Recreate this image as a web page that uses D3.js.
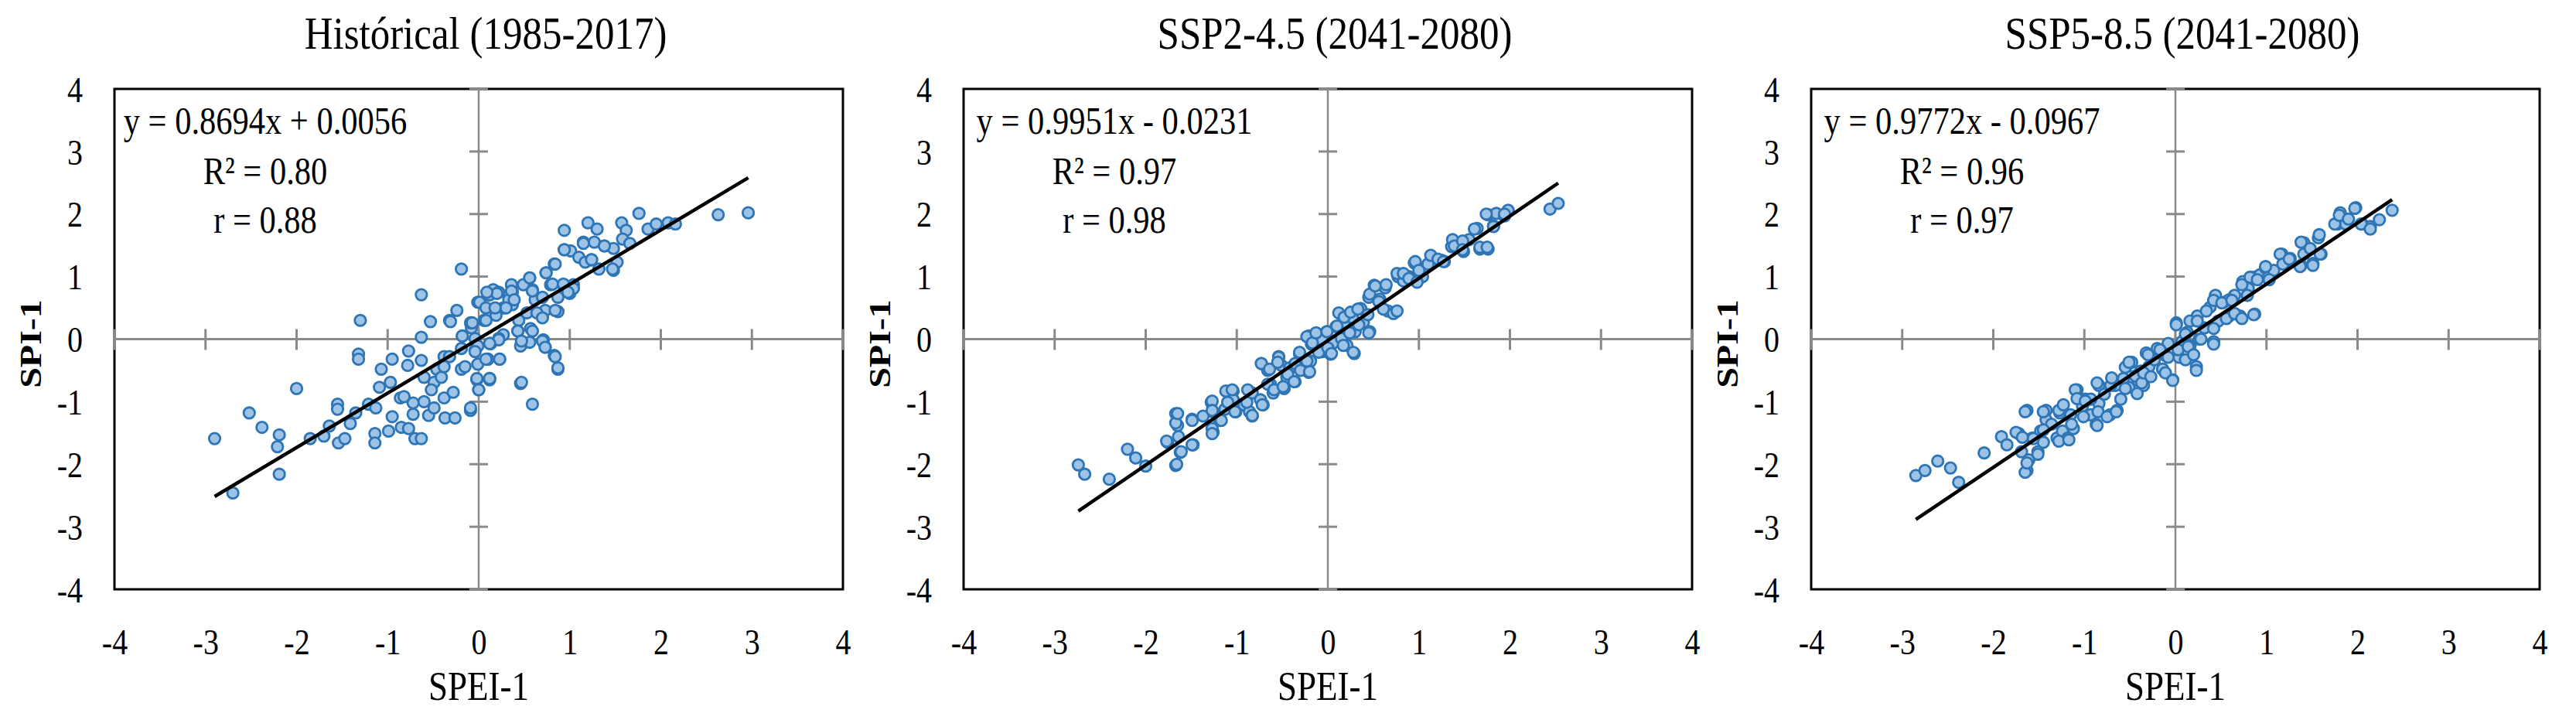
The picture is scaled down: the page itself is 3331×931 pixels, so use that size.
<!DOCTYPE html>
<html><head><meta charset="utf-8">
<script src="https://cdn.jsdelivr.net/npm/d3@7"></script>
<style>html,body{margin:0;padding:0;background:#fff;} svg{display:block;}</style>
</head><body><svg id="c" width="3331" height="931"></svg>
<script>
const titles = ["Histórical (1985-2017)", "SSP2-4.5 (2041-2080)", "SSP5-8.5 (2041-2080)"];
const equations = ["y = 0.8694x + 0.0056", "y = 0.9951x - 0.0231", "y = 0.9772x - 0.0967"];
const r2Labels = ["R² = 0.80", "R² = 0.97", "R² = 0.96"];
const rLabels = ["r = 0.88", "r = 0.98", "r = 0.97"];
const slopes = [0.8694, 0.9951, 0.9772];
const intercepts = [0.0056, -0.0231, -0.0967];
const xTicks = [-4, -3, -2, -1, 0, 1, 2, 3, 4];
const yTicks = [-4, -3, -2, -1, 0, 1, 2, 3, 4];
const xLabel = "SPEI-1";
const yLabel = "SPI-1";

const histX = [
-0.19,-0.63,-1.30,-1.32,-1.32,-2.00,-2.52,-2.38,-2.90,-2.19,
-2.21,-2.19,-2.70,-1.85,-1.70,-1.64,-1.55,-1.55,-1.54,-1.47,
-1.41,-1.35,-1.21,-1.13,-1.14,-1.14,-1.09,-1.07,-0.97,-0.95,
-0.99,-0.95,-0.85,-0.77,-0.86,-0.82,-0.77,-0.78,-0.72,-0.70,
-0.63,-0.72,-0.63,-0.63,-0.53,-0.60,-0.55,-0.49,-0.49,-0.46,
-0.37,-0.26,-0.38,-0.28,-0.38,-0.32,-0.24,-0.19,-0.18,-0.09,
-0.08,-0.01,-0.02,0.00,0.06,0.10,0.12,0.10,0.16,0.13,-0.52,-0.41,-0.60,
2.96,2.63,1.76,1.57,1.62,1.20,1.30,0.94,1.86,1.95,
2.08,2.16,1.15,1.27,1.38,1.48,1.58,1.66,0.94,1.01,
1.10,1.17,1.24,1.32,1.48,1.52,0.83,0.74,0.79,0.56,
0.59,0.49,0.36,0.22,0.12,0.37,0.37,0.27,0.01,0.08,
0.62,0.70,0.73,0.87,0.93,1.00,1.04,0.87,-0.09,0.06,
0.19,0.44,0.57,0.43,0.27,0.22,0.47,0.56,0.13,-0.04,
-0.04,0.10,0.23,-0.01,0.71,0.73,0.83,0.87,0.46,0.46,
0.59,0.12,-0.02,0.00,-0.09,0.33,0.53,0.64,
-0.31,-0.07,0.08,0.20,0.36,0.56,0.59,0.74,0.81,0.84,
0.94,0.93,1.04,1.15,1.24,1.38,1.47,0.43,0.59,0.70,
0.73,0.84,0.87,0.47,0.22,0.12,-0.01,-0.18,-0.04,0.08,
0.23,0.47,0.12,-0.15,-0.32,-0.38,-0.19,0.30,0.39,0.70,
0.84,0.98,0.09,0.18];
const histY = [
1.12,0.71,0.30,-0.24,-0.32,-0.79,-1.18,-1.41,-1.59,-1.53,
-1.72,-2.16,-2.46,-1.59,-1.55,-1.39,-1.04,-1.12,-1.66,-1.59,
-1.35,-1.18,-1.04,-1.10,-1.51,-1.66,-0.77,-0.48,-0.69,-0.32,
-1.47,-1.24,-1.41,-1.43,-0.94,-0.92,-0.19,-0.42,-1.20,-1.59,
-1.59,-1.02,-0.34,0.03,0.28,-1.00,-1.22,-1.10,-0.69,-0.48,
-1.26,-1.26,-0.94,-0.85,-0.28,0.30,0.46,-0.48,0.05,-1.14,
0.18,0.59,-0.65,-0.81,0.30,-0.32,-0.65,0.71,0.79,-0.07,-0.81,-0.61,-0.61,
2.02,1.99,2.01,1.86,1.74,1.86,1.76,1.74,1.76,1.84,
1.86,1.84,1.55,1.55,1.49,1.45,1.60,1.53,1.43,1.41,
1.31,1.23,1.27,1.12,1.10,1.23,1.20,1.06,0.87,0.98,
0.79,0.87,0.87,0.75,0.71,0.75,0.55,0.50,0.59,0.50,
0.63,0.67,0.46,0.44,0.87,0.73,0.87,0.67,0.26,0.30,
0.38,0.30,0.17,0.13,0.07,0.01,-0.05,-0.05,-0.07,0.01,
-0.18,-0.32,-0.32,-0.40,-0.01,-0.13,-0.26,-0.48,-0.11,-0.71,
-1.04,-0.63,-0.63,-0.81,-1.10,0.63,0.42,0.42,
0.28,0.26,0.30,0.73,0.77,0.98,0.77,1.06,0.88,1.20,
1.43,0.88,0.81,1.53,1.27,1.49,1.12,0.13,0.13,-0.03,
-0.13,-0.28,-0.46,-0.03,-0.01,-0.07,-0.11,0.05,-0.20,-0.32,
-0.32,-0.69,-0.63,-0.44,-0.28,-0.44,-0.15,0.50,0.63,0.34,
0.46,0.75,0.75,0.50];

const ssp245X = [
-2.74,-2.67,-2.40,-2.20,-2.11,-2.00,-1.76,-1.67,-1.65,-1.64,
-1.67,-1.62,-1.49,-1.48,-1.28,-1.26,-1.26,-1.19,-1.13,-1.07,
-1.04,-1.01,-0.92,-0.86,-0.83,-0.71,-0.73,-0.66,-0.63,-0.60,
-0.54,-0.51,-0.45,-0.48,-0.42,-0.36,-0.31,-0.27,-0.21,-0.19,
-0.21,-0.18,-0.12,-0.06,-0.01,0.03,0.06,0.09,0.15,0.18,
0.21,0.27,0.29,0.30,0.36,0.39,0.46,0.45,0.51,0.57,
0.63,0.66,0.74,0.77,0.83,0.89,0.95,0.98,1.07,1.16,
1.25,1.36,1.40,1.49,1.55,1.64,1.67,1.76,1.76,1.82,
1.85,1.94,1.98,2.44,2.53,1.28,1.04,0.12,-0.06,-0.36,
-0.83,-0.74,-1.37,-1.04,
-1.66,-1.67,-1.65,-1.77,-1.61,-1.49,-1.49,-1.27,-1.27,-1.27,
-1.27,-1.17,-1.12,-1.05,-1.10,-1.02,-0.89,-0.88,-0.83,-0.72,
-0.73,-0.64,-0.54,-0.55,-0.66,-0.59,-0.49,-0.44,-0.37,-0.31,
-0.30,-0.20,-0.23,-0.23,-0.17,-0.13,-0.10,-0.01,0.00,0.04,
0.10,0.17,0.18,0.24,0.28,0.25,0.33,0.34,0.45,0.44,
0.46,0.52,0.56,0.61,0.64,0.72,0.76,0.76,0.83,0.89,
0.96,0.98,1.00,1.10,1.13,1.21,1.27,1.37,1.39,1.48,
1.48,1.61,1.67,1.75,1.74,1.82,1.94];
const ssp245Y = [
-2.01,-2.16,-2.24,-1.76,-1.90,-2.03,-1.65,-1.19,-1.38,-1.56,
-2.02,-1.81,-1.28,-1.69,-1.01,-1.16,-1.49,-1.30,-1.12,-0.86,
-0.83,-1.16,-1.05,-1.16,-1.23,-1.05,-0.39,-0.50,-0.72,-0.86,
-0.28,-0.42,-0.61,-0.79,-0.46,-0.68,-0.24,-0.46,-0.53,-0.35,
0.05,-0.08,0.09,-0.20,0.12,-0.24,-0.06,0.20,0.01,0.27,
-0.10,0.34,-0.23,0.12,0.49,0.27,0.12,0.67,0.86,0.64,
0.82,0.45,0.43,1.00,0.93,1.00,1.22,0.93,1.15,1.29,
1.26,1.48,1.55,1.40,1.59,1.77,1.44,1.44,1.99,1.81,
2.01,1.97,2.06,2.08,2.17,1.24,1.00,0.42,-0.02,-0.39,
-0.86,-0.97,-1.23,-0.97,
-2.00,-1.34,-1.19,-1.63,-1.80,-1.69,-1.30,-0.99,-1.14,-1.43,
-1.51,-1.30,-0.83,-0.81,-1.01,-1.16,-1.01,-0.81,-1.22,-1.05,
-0.39,-0.48,-0.29,-0.37,-0.72,-0.81,-0.76,-0.56,-0.68,-0.21,
-0.50,-0.52,-0.35,0.04,-0.06,0.10,-0.21,0.12,-0.14,-0.23,
0.21,-0.10,0.35,0.10,-0.21,0.43,0.48,0.23,0.10,0.39,
0.72,0.85,0.60,0.48,0.87,0.41,0.45,1.05,1.05,0.97,
1.24,0.91,1.10,1.20,1.34,1.28,1.24,1.59,1.49,1.57,
1.43,1.76,1.47,1.47,2.00,1.80,2.00];

const ssp585X = [
-2.85,-2.75,-2.61,-2.47,-2.38,-2.10,-1.91,-1.85,-1.72,-1.69,
-1.63,-1.63,-1.61,-1.57,-1.51,-1.45,-1.42,-1.42,-1.30,-1.27,
-1.24,-1.18,-1.15,-1.12,-1.08,-1.02,-0.99,-0.93,-0.87,-0.84,
-0.84,-0.78,-0.72,-0.66,-0.64,-0.60,-0.57,-0.51,-0.54,-0.48,
-0.41,-0.38,-0.35,-0.32,-0.29,-0.23,-0.20,-0.14,-0.11,-0.08,
-0.03,0.01,0.04,0.07,0.13,0.16,0.23,0.24,0.26,0.32,
0.38,0.42,0.44,0.47,0.53,0.59,0.65,0.74,0.71,0.80,
0.87,0.87,0.93,0.99,1.02,1.17,1.20,1.26,1.38,1.41,
1.47,1.51,1.57,1.60,1.78,1.81,1.90,1.98,2.05,2.14,
2.24,2.38,1.87,1.08,1.41,0.59,0.16,-0.17,-0.44,-0.93,
-1.36,-1.48,
-1.65,-1.65,-1.63,-1.75,-1.68,-1.51,-1.56,-1.45,-1.45,-1.28,
-1.28,-1.17,-1.23,-1.10,-1.08,-1.14,-1.01,-0.99,-0.86,-0.86,
-0.85,-0.75,-0.71,-0.70,-0.65,-0.55,-0.55,-0.51,-0.42,-0.37,
-0.35,-0.30,-0.27,-0.17,-0.14,-0.11,-0.03,-0.08,0.01,0.03,
0.11,0.11,0.14,0.20,0.23,0.24,0.28,0.34,0.42,0.42,
0.42,0.51,0.56,0.62,0.65,0.73,0.73,0.79,0.86,0.82,
0.90,0.99,1.03,1.15,1.18,1.25,1.37,1.38,1.48,1.51,
1.58,1.59,1.75,1.80,1.90,1.97,2.04,2.14];
const ssp585Y = [
-2.18,-2.10,-1.95,-2.06,-2.29,-1.82,-1.56,-1.69,-1.51,-1.80,
-1.14,-2.10,-1.93,-1.58,-1.80,-1.65,-1.14,-1.29,-1.58,-1.18,
-1.47,-1.58,-1.21,-1.43,-0.81,-1.07,-0.96,-1.21,-1.36,-0.74,
-1.03,-0.88,-1.21,-0.74,-1.14,-0.96,-0.63,-0.77,-0.44,-0.37,
-0.66,-0.51,-0.74,-0.22,-0.44,-0.33,-0.15,-0.48,-0.26,-0.07,
-0.65,0.26,-0.29,-0.04,0.11,-0.11,-0.44,0.37,0.00,0.18,
0.51,-0.04,0.70,0.29,0.59,0.37,0.70,0.92,0.37,0.81,
0.40,0.99,1.03,1.14,0.99,1.36,1.21,1.29,1.18,1.54,
1.43,1.21,1.62,1.36,1.84,2.02,1.91,2.10,1.84,1.80,
1.91,2.06,1.84,1.10,1.36,0.63,0.29,-0.22,-0.59,-0.96,
-1.36,-1.47,
-1.16,-2.13,-1.98,-1.49,-1.57,-1.84,-1.59,-1.16,-1.45,-1.14,
-1.63,-1.61,-1.05,-0.81,-0.95,-1.36,-1.24,-0.99,-0.70,-1.38,
-1.16,-1.24,-0.74,-0.62,-1.16,-0.45,-0.79,-0.37,-0.87,-0.70,
-0.54,-0.25,-0.60,-0.17,-0.48,-0.54,-0.66,-0.29,0.23,-0.17,
0.08,-0.33,-0.12,-0.25,-0.50,0.29,0.00,0.45,0.62,0.17,
-0.08,0.58,0.33,0.62,0.41,0.87,0.33,0.70,0.39,0.99,
0.95,1.16,0.95,1.36,1.20,1.28,1.16,1.55,1.45,1.18,
1.67,1.36,1.84,1.98,1.92,2.09,1.84,1.76];

const seriesX = [histX, ssp245X, ssp585X];
const seriesY = [histY, ssp245Y, ssp585Y];

// layout
const SX = 0.85; // horizontal text condensing seen in the reference
const FONT = "'Liberation Serif','Times New Roman',serif";
const panelLefts = [148, 1246, 2342];
const panelW = 942, panelTop = 115, panelH = 647;

const svg = d3.select("#c");
svg.append("rect").attr("width", 3331).attr("height", 931).attr("fill", "#fff");

function addText(g, x, y, str, o = {}) {
  return g.append("text")
    .attr("transform", `translate(${x},${y}) scale(${SX},1)` + (o.rotate ? ` rotate(${o.rotate})` : ""))
    .attr("text-anchor", o.anchor || "middle")
    .attr("dominant-baseline", o.baseline || "alphabetic")
    .attr("font-family", FONT)
    .attr("font-size", o.size || 47)
    .attr("font-weight", o.weight || "normal")
    .attr("fill", "#000")
    .text(str);
}

panelLefts.forEach((left, i) => {
  const g = svg.append("g").attr("transform", `translate(${left},${panelTop})`);
  const x = d3.scaleLinear().domain([-4, 4]).range([0, panelW]);
  const y = d3.scaleLinear().domain([-4, 4]).range([panelH, 0]);

  // plot box
  g.append("rect").attr("x", x(-4)).attr("y", y(4))
    .attr("width", x(4) - x(-4)).attr("height", y(-4) - y(4))
    .attr("fill", "none").attr("stroke", "#000").attr("stroke-width", 3);

  // zero axes
  const axisCol = "#8a8a8a";
  g.append("line").attr("x1", x(-4)).attr("x2", x(4)).attr("y1", y(0)).attr("y2", y(0))
    .attr("stroke", axisCol).attr("stroke-width", 3);
  g.append("line").attr("x1", x(0)).attr("x2", x(0)).attr("y1", y(-4)).attr("y2", y(4))
    .attr("stroke", axisCol).attr("stroke-width", 2.5);
  g.selectAll(".xt").data(xTicks).join("line")
    .attr("x1", d => x(d)).attr("x2", d => x(d))
    .attr("y1", y(0) - 13).attr("y2", y(0) + 14)
    .attr("stroke", axisCol).attr("stroke-width", 3);
  g.selectAll(".yt").data(yTicks).join("line")
    .attr("x1", x(0) - 12).attr("x2", x(0) + 12)
    .attr("y1", d => y(d)).attr("y2", d => y(d))
    .attr("stroke", axisCol).attr("stroke-width", 3);

  // tick labels via d3 axes
  const ax = g.append("g").attr("transform", `translate(0,${panelH})`)
    .call(d3.axisBottom(x).tickValues(xTicks).tickSize(0).tickFormat(d => String(d)));
  ax.select(".domain").remove();
  ax.selectAll("text").attr("y", null).attr("dy", null)
    .attr("transform", `translate(0,68) scale(${SX},1)`)
    .attr("dominant-baseline", "central")
    .attr("font-family", FONT).attr("font-size", 47).attr("fill", "#000");

  const ay = g.append("g")
    .call(d3.axisLeft(y).tickValues(yTicks).tickSize(0).tickFormat(d => String(d)));
  ay.select(".domain").remove();
  ay.selectAll("text").attr("x", null).attr("dy", null)
    .attr("transform", `translate(-41,0) scale(${SX},1)`)
    .attr("text-anchor", "end").attr("dominant-baseline", "central")
    .attr("font-family", FONT).attr("font-size", 47).attr("fill", "#000");

  // points
  const xs = seriesX[i], ys = seriesY[i];
  const pts = d3.zip(xs, ys);
  g.selectAll("circle.pt").data(pts).join("circle")
    .attr("class", "pt")
    .attr("cx", d => x(d[0])).attr("cy", d => y(d[1]))
    .attr("r", 7.2)
    .attr("fill", "#9dc3e6").attr("stroke", "#2e75b6").attr("stroke-width", 2.8);

  // trend line over data extent
  const [xmin, xmax] = d3.extent(xs);
  const line = d3.line().x(d => x(d)).y(d => y(slopes[i] * d + intercepts[i]));
  g.append("path").attr("d", line([xmin, xmax]))
    .attr("fill", "none").attr("stroke", "#000").attr("stroke-width", 4.5);

  // equation block
  const cx = 195;
  addText(g, cx, 58, equations[i], { size: 50 });
  addText(g, cx, 123, r2Labels[i], { size: 50 });
  addText(g, cx, 186, rLabels[i], { size: 50 });

  // title
  addText(g, panelW / 2 + 9, -52, titles[i], { size: 60 });

  // axis titles
  addText(g, x(0), 905 - panelTop, xLabel, { size: 53 });
  addText(g, -109, y(0) + 6, yLabel, { size: 48, weight: "bold", rotate: -90, baseline: "central" });
});
</script>
</body></html>
